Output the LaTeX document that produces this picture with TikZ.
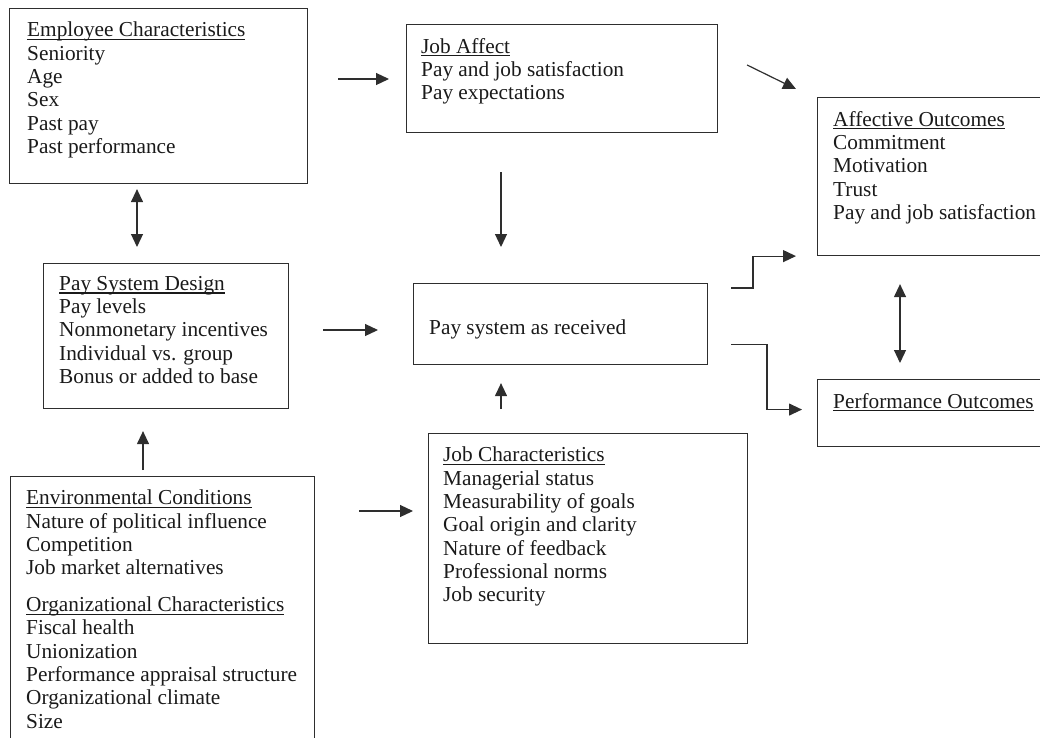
\documentclass[tikz,border=0pt]{standalone}
\usepackage{fontspec}
\setmainfont{Liberation Serif}
\usepackage{xcolor}
\usepackage{tikz}
\usetikzlibrary{arrows.meta}
\definecolor{LineGray}{HTML}{2E2E2E}
\definecolor{InkGray}{HTML}{1A1A1A}
\newlength{\hdrwd}
\newcommand{\hdr}[1]{\settowidth{\hdrwd}{#1}\rlap{\rule[-3.2pt]{\hdrwd}{1.1pt}}#1}

\begin{document}
\begin{tikzpicture}[
  x=1pt, y=-1pt,
  font=\fontsize{21.3pt}{23.3pt}\selectfont,
  box/.style={draw=LineGray,line width=1.1pt,anchor=north west,inner sep=0pt},
  txt/.style={anchor=north west,inner sep=0pt,align=left,text=InkGray},
  arr/.style={-{Triangle[length=13pt,width=12pt]},line width=1.2pt,draw=LineGray},
  dbl/.style={{Triangle[length=13pt,width=12pt]}-{Triangle[length=13pt,width=12pt]},line width=1.2pt,draw=LineGray}
]
  \useasboundingbox (0,0) rectangle (1040,737);
  \clip (0,0) rectangle (1040,737);

  % boxes
  \node[box,minimum width=298pt,minimum height=175pt] (emp) at (9,8) {};
  \node[box,minimum width=311pt,minimum height=108pt] (jaff) at (406,24) {};
  \node[box,minimum width=260pt,minimum height=158pt] (affo) at (817,97) {};
  \node[box,minimum width=245pt,minimum height=145pt] (psd) at (43,263) {};
  \node[box,minimum width=294pt,minimum height=81pt] (psr) at (413,283) {};
  \node[box,minimum width=260pt,minimum height=67pt] (perf) at (817,379) {};
  \node[box,minimum width=319pt,minimum height=210pt] (jch) at (428,433) {};
  \node[box,minimum width=304pt,minimum height=300pt] (env) at (10,476) {};

  % texts
  \node[txt] (empT) at ([shift={(18pt,-14pt)}]emp.north west)
    {\hdr{Employee Characteristics}\\Seniority\\Age\\Sex\\Past pay\\Past performance};
  \node[txt] (jaffT) at ([shift={(15pt,-14pt)}]jaff.north west)
    {\hdr{Job Affect}\\Pay and job satisfaction\\Pay expectations};
  \node[txt] (affoT) at ([shift={(16pt,-14pt)}]affo.north west)
    {\hdr{Affective Outcomes}\\Commitment\\Motivation\\Trust\\Pay and job satisfaction};
  \node[txt] (psdT) at ([shift={(16pt,-13pt)}]psd.north west)
    {\hdr{Pay System Design}\\Pay levels\\Nonmonetary incentives\\Individual vs. group\\Bonus or added to base};
  \node[txt] (psrT) at ([shift={(16pt,-37pt)}]psr.north west) {Pay system as received};
  \node[txt] (perfT) at ([shift={(16pt,-14pt)}]perf.north west) {\hdr{Performance Outcomes}};
  \node[txt] (jchT) at ([shift={(15pt,-14pt)}]jch.north west)
    {\hdr{Job Characteristics}\\Managerial status\\Measurability of goals\\Goal origin and clarity\\Nature of feedback\\Professional norms\\Job security};
  \node[txt] (envT) at ([shift={(16pt,-14pt)}]env.north west)
    {\hdr{Environmental Conditions}\\Nature of political influence\\Competition\\Job market alternatives\\[13.5pt]
     \hdr{Organizational Characteristics}\\Fiscal health\\Unionization\\Performance appraisal structure\\Organizational climate\\Size};

  % connectors
  \draw[arr,shorten <=30pt,shorten >=17pt] (emp.east |- 0,79) -- (jaff.west |- 0,79);
  \draw[arr] ([shift={(29pt,-41pt)}]jaff.north east) -- ([shift={(-21pt,8pt)}]affo.north west);
  \draw[arr,shorten <=39pt,shorten >=36pt] (jaff.south -| 501,0) -- (psr.north -| 501,0);
  \draw[dbl,shorten <=5pt,shorten >=16pt] (emp.south -| 137,0) -- (psd.north -| 137,0);
  \draw[arr,shorten <=34pt,shorten >=35pt] (psd.east |- 0,330) -- (psr.west |- 0,330);
  \draw[arr,shorten <=6pt,shorten >=22pt] (env.north -| 143,0) -- (psd.south -| 143,0);
  \draw[arr,shorten <=44pt,shorten >=15pt] (env.east |- 0,511) -- (jch.west |- 0,511);
  \draw[arr,shorten <=24pt,shorten >=18pt] (jch.north -| 501,0) -- (psr.south -| 501,0);
  \draw[arr] ([shift={(23pt,-5pt)}]psr.north east) -| ([xshift=-64pt]affo.south west) -- ([xshift=-21pt]affo.south west);
  \draw[arr] ([shift={(23pt,21pt)}]psr.south east) -| ([shift={(-50pt,3.5pt)}]perf.west) -- ([shift={(-15pt,3.5pt)}]perf.west);
  \draw[dbl,shorten <=28pt,shorten >=16pt] (affo.south -| 900,0) -- (perf.north -| 900,0);
\end{tikzpicture}
\end{document}
